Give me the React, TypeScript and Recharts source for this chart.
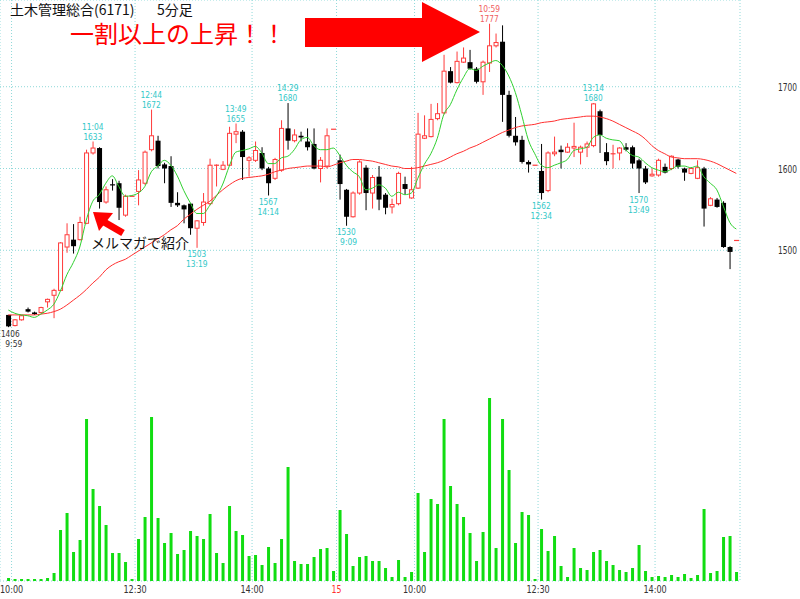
import React from "react";
import {
  ComposedChart,
  Bar,
  Line,
  Scatter,
  XAxis,
  YAxis,
  CartesianGrid,
} from "recharts";

// 5-minute candles, two sessions (9:55 on day 1 .. 15:00 on day 2)
const OPEN = [
  1421, 1408, 1415, 1428, 1424, 1424, 1437, 1445, 1451, 1504,
  1513, 1513, 1533, 1619, 1625, 1559, 1580, 1582, 1543, 1566,
  1572, 1582, 1623, 1634, 1605, 1603, 1558, 1555, 1557, 1527,
  1534, 1557, 1603, 1599, 1604, 1642, 1645, 1610, 1610, 1619,
  1600, 1588, 1598, 1649, 1634, 1640, 1633, 1630, 1600, 1603,
  1648, 1610, 1574, 1541, 1570, 1601, 1570, 1590, 1568, 1553,
  1557, 1581, 1564, 1576, 1637, 1639, 1661, 1668, 1719, 1705,
  1730, 1730, 1722, 1706, 1729, 1750, 1755, 1690, 1640, 1635,
  1608, 1604, 1597, 1573, 1618, 1623, 1620, 1625, 1620, 1626,
  1628, 1670, 1620, 1617, 1619, 1626, 1626, 1610, 1600, 1591,
  1592, 1602, 1600, 1611, 1600, 1594, 1588, 1600, 1555, 1562,
  1558, 1504, 1512,
];
const HIGH = [
  1421, 1416, 1421, 1430, 1425, 1431, 1441, 1453, 1510, 1533,
  1532, 1541, 1623, 1633, 1626, 1578, 1587, 1585, 1568, 1566,
  1598, 1622, 1672, 1640, 1607, 1615, 1571, 1556, 1558, 1537,
  1570, 1612, 1605, 1609, 1651, 1655, 1647, 1615, 1633, 1626,
  1602, 1613, 1659, 1680, 1648, 1645, 1649, 1649, 1614, 1649,
  1648, 1617, 1575, 1572, 1610, 1604, 1592, 1603, 1570, 1563,
  1596, 1590, 1602, 1668, 1665, 1679, 1680, 1739, 1724, 1743,
  1748, 1745, 1724, 1732, 1777, 1765, 1775, 1695, 1663, 1640,
  1610, 1604, 1630, 1621, 1639, 1628, 1631, 1656, 1628, 1633,
  1680, 1672, 1631, 1629, 1626, 1631, 1628, 1612, 1603, 1600,
  1612, 1606, 1616, 1612, 1601, 1601, 1610, 1602, 1565, 1564,
  1560, 1505, 1512,
];
const LOW = [
  1406, 1407, 1414, 1424, 1421, 1423, 1430, 1417, 1450, 1497,
  1496, 1512, 1532, 1617, 1551, 1557, 1573, 1537, 1541, 1566,
  1555, 1580, 1621, 1600, 1582, 1553, 1553, 1533, 1519, 1503,
  1530, 1555, 1578, 1598, 1603, 1631, 1586, 1590, 1608, 1598,
  1567, 1586, 1596, 1623, 1632, 1633, 1622, 1599, 1583, 1600,
  1648, 1562, 1530, 1540, 1568, 1549, 1551, 1549, 1544, 1545,
  1555, 1568, 1563, 1575, 1636, 1638, 1659, 1666, 1704, 1704,
  1729, 1721, 1704, 1690, 1718, 1748, 1657, 1638, 1628, 1606,
  1595, 1604, 1562, 1571, 1615, 1600, 1619, 1614, 1605, 1614,
  1626, 1619, 1604, 1600, 1610, 1621, 1600, 1570, 1581, 1590,
  1590, 1594, 1598, 1600, 1585, 1593, 1587, 1529, 1554, 1552,
  1503, 1477, 1512,
];
const CLOSE = [
  1407, 1415, 1420, 1425, 1422, 1430, 1440, 1451, 1509, 1519,
  1505, 1534, 1619, 1625, 1559, 1574, 1579, 1552, 1566, 1566,
  1586, 1620, 1640, 1603, 1600, 1558, 1555, 1550, 1527, 1536,
  1559, 1604, 1604, 1604, 1643, 1645, 1614, 1613, 1622, 1600,
  1582, 1611, 1649, 1634, 1641, 1638, 1626, 1600, 1610, 1640,
  1648, 1581, 1541, 1570, 1608, 1570, 1589, 1562, 1552, 1556,
  1594, 1575, 1574, 1642, 1640, 1660, 1667, 1719, 1705, 1731,
  1735, 1722, 1706, 1730, 1750, 1754, 1690, 1640, 1632, 1608,
  1605, 1604, 1570, 1619, 1620, 1620, 1626, 1627, 1626, 1630,
  1679, 1641, 1609, 1618, 1625, 1623, 1606, 1600, 1583, 1593,
  1610, 1595, 1615, 1602, 1595, 1600, 1601, 1551, 1563, 1553,
  1504, 1498, 1512,
];
// short (green) and long (red) moving averages as drawn
const MA_SHORT = [
  1427, 1423, 1421, 1420, 1418, 1422, 1427, 1434, 1450, 1470,
  1485, 1504, 1537, 1560, 1568, 1582, 1591, 1578, 1566, 1567,
  1570, 1578, 1596, 1603, 1610, 1604, 1591, 1573, 1558, 1545,
  1545, 1555, 1566, 1581, 1603, 1620, 1622, 1624, 1627, 1619,
  1606, 1606, 1613, 1615, 1623, 1635, 1638, 1628, 1623, 1623,
  1625, 1616, 1604, 1596, 1590, 1574, 1576, 1580, 1576, 1566,
  1571, 1568, 1570, 1588, 1605, 1618, 1637, 1666, 1678, 1696,
  1711, 1722, 1720, 1725, 1729, 1732, 1726, 1713, 1693, 1665,
  1635, 1618, 1604, 1601, 1604, 1607, 1611, 1622, 1624, 1626,
  1638, 1641, 1637, 1635, 1634, 1623, 1616, 1614, 1607, 1601,
  1598, 1596, 1599, 1603, 1603, 1601, 1603, 1590, 1582, 1574,
  1554, 1534, 1526,
];
const MA_LONG = [
  1421, 1421, 1421, 1421, 1421, 1422, 1423, 1425, 1428, 1433,
  1439, 1445, 1452, 1460, 1467, 1476, 1482, 1486, 1489, 1494,
  1499, 1504, 1509, 1514, 1519, 1525, 1530, 1538, 1544, 1550,
  1555, 1560, 1567, 1574, 1580, 1585, 1588, 1589, 1590, 1591,
  1593, 1596, 1598, 1600, 1601, 1602, 1603, 1603, 1603, 1602,
  1604, 1607, 1609, 1611, 1611, 1610, 1609, 1607, 1605, 1603,
  1602, 1600, 1600, 1601, 1603, 1605, 1607, 1610, 1614, 1618,
  1621, 1625, 1628, 1632, 1636, 1640, 1644, 1647, 1650, 1652,
  1653, 1654, 1656, 1657, 1658, 1660, 1661, 1662, 1663, 1664,
  1664, 1663, 1661, 1658, 1654, 1650, 1646, 1642, 1636, 1628,
  1622, 1618, 1614, 1613, 1612, 1612, 1612, 1611, 1609, 1606,
  1602, 1598, 1594,
];
const VOLUME = [
  300, 200, 200, 200, 200, 200, 300, 800, 5100, 6800,
  2900, 4100, 16200, 9200, 7500, 5600, 2800, 2800, 1900, 200,
  4200, 6400, 16400, 6300, 3800, 4800, 2700, 3100, 5000, 4500,
  4200, 6700, 2800, 1800, 7500, 5000, 4600, 2500, 2600, 1600,
  3400, 1800, 4200, 11400, 2000, 1700, 1700, 2400, 3200, 3300,
  1000, 7100, 4700, 1500, 2400, 2500, 2000, 2000, 1300, 400,
  2100, 400, 900, 8800, 2900, 8200, 7700, 16200, 9500, 7700,
  6400, 4800, 2000, 4900, 18300, 3300, 16200, 11100, 3800, 6900,
  6600, 200, 5200, 3000, 4500, 1500, 400, 3300, 1300, 1100,
  2900, 3100, 2000, 1600, 1100, 900, 1300, 3600, 1000, 400,
  500, 400, 600, 400, 700, 300, 600, 7200, 800, 1000,
  4400, 4500, 900,
];

// session boundaries (between candles) and their labels
const TIME_TICKS = [0.5, 19.5, 37.5, 50.5, 62.5, 81.5, 99.5];
const TIME_LABELS = ["10:00", "12:30", "14:00", "15", "10:00", "12:30", "14:00"];
const PRICE_TICKS = [1500, 1600, 1700];

const HIGH_MARKS = [
  { i: 13, price: 1633, time: "11:04" },
  { i: 22, price: 1672, time: "12:44" },
  { i: 35, price: 1655, time: "13:49" },
  { i: 43, price: 1680, time: "14:29" },
  { i: 74, price: 1777, time: "10:59" },
  { i: 90, price: 1680, time: "13:14" },
];
const LOW_MARKS = [
  { i: 0, price: 1406, time: "9:59" },
  { i: 29, price: 1503, time: "13:19" },
  { i: 40, price: 1567, time: "14:14" },
  { i: 52, price: 1530, time: "9:09" },
  { i: 82, price: 1562, time: "12:34" },
  { i: 97, price: 1570, time: "13:49" },
];

const X_DOMAIN = [-1.277, 112.569];
const PRICE_DOMAIN = [1095.7, 1806];
const VOL_DOMAIN = [0, 58100];

const RED = "#ff3b3b";
const GREEN_MA = "#2fd02f";
const RED_MA = "#ff3030";
const VOL_GREEN = "#11dd11";
const CYAN = "#33c8c8";
const FONT = "'DejaVu Sans', sans-serif";
const CJK = "'Noto Sans CJK JP', 'Noto Sans', sans-serif";

const MAX_HIGH = Math.max(...HIGH);
const MIN_LOW = Math.min(...LOW);

const data = OPEN.map((o, i) => ({
  i,
  open: o,
  high: HIGH[i],
  low: LOW[i],
  close: CLOSE[i],
  range: [LOW[i], HIGH[i]],
  maShort: MA_SHORT[i],
  maLong: MA_LONG[i],
  vol: VOLUME[i],
}));

// width of a label in the chart's narrow bitmap-like font
function textWidth(s: string, digit: number, colon: number) {
  let w = 0;
  for (const ch of s) w += ch === ":" ? colon : digit;
  return w;
}

function Candle(props: any) {
  const { x, y, width, height, payload } = props;
  if (x == null || y == null || !payload) return null;
  const top = Math.min(y, y + height);
  const h = Math.abs(height);
  const { open, close, high, low } = payload;
  const span = high - low;
  const py = (v: number) => (span === 0 ? top : top + ((high - v) / span) * h);
  const up = close >= open;
  const col = up ? RED : "#000";
  const cx = x + width / 2;
  const bTop = py(Math.max(open, close));
  const bBot = py(Math.min(open, close));
  return (
    <g>
      {h > 0 && (
        <line x1={cx} x2={cx} y1={top} y2={top + h} stroke={col} strokeWidth={1} />
      )}
      {bBot - bTop < 1.2 ? (
        <line x1={x} x2={x + width} y1={bTop} y2={bTop} stroke={col} strokeWidth={1.2} />
      ) : up ? (
        <rect
          x={x + 0.5}
          y={bTop}
          width={width - 1}
          height={bBot - bTop}
          fill="#fff"
          stroke={col}
          strokeWidth={1}
        />
      ) : (
        <rect x={x} y={bTop} width={width} height={bBot - bTop} fill="#000" />
      )}
    </g>
  );
}

function markColor(price: number) {
  if (price === MAX_HIGH) return "#f06060";
  if (price === MIN_LOW) return "#333";
  return CYAN;
}

function MarkText({ x, y, s, fill }: { x: number; y: number; s: string; fill: string }) {
  return (
    <text
      x={x}
      y={y}
      textAnchor="middle"
      fontFamily={FONT}
      fontSize={9.5}
      fill={fill}
      textLength={textWidth(s, 4.7, 2.9)}
      lengthAdjust="spacingAndGlyphs"
    >
      {s}
    </text>
  );
}

function HighMark(props: any) {
  const { cx, cy, payload } = props;
  if (cx == null || !payload) return null;
  const col = markColor(payload.price);
  return (
    <g>
      <MarkText x={cx + (5 - payload.time.length) * 2.3} y={cy - 12} s={payload.time} fill={col} />
      <MarkText x={cx} y={cy - 2} s={String(payload.price)} fill={col} />
    </g>
  );
}

function LowMark(props: any) {
  const { cx, cy, payload } = props;
  if (cx == null || !payload) return null;
  const col = markColor(payload.price);
  const px = Math.max(cx, 10.3);
  const tx = Math.max(cx, 11.5) + (5 - payload.time.length) * 2.3;
  return (
    <g>
      <MarkText x={px} y={cy + 9.5} s={String(payload.price)} fill={col} />
      <MarkText x={tx} y={cy + 19.5} s={payload.time} fill={col} />
    </g>
  );
}

function TimeTick(props: any) {
  const { x, y, index } = props;
  const label = TIME_LABELS[index];
  return (
    <text
      x={x}
      y={y + 12}
      textAnchor="middle"
      fontFamily={FONT}
      fontSize={11}
      fill={label === "15" ? "#ff3030" : "#333"}
      textLength={textWidth(label, 5, 3.3)}
      lengthAdjust="spacingAndGlyphs"
    >
      {label}
    </text>
  );
}

function PriceTick(props: any) {
  const { x, y, payload } = props;
  const s = String(payload.value);
  return (
    <text
      x={x + 57}
      y={y + 4}
      textAnchor="end"
      fontFamily={FONT}
      fontSize={11}
      fill="#333"
      textLength={textWidth(s, 4.75, 3)}
      lengthAdjust="spacingAndGlyphs"
    >
      {s}
    </text>
  );
}

export default function App() {
  return (
    <div style={{ position: "absolute", left: 0, top: 0, width: 800, height: 599, background: "#fff" }}>
      <ComposedChart
        width={800}
        height={599}
        data={data}
        margin={{ top: 0, right: 0, left: 0, bottom: 0 }}
      >
        <XAxis
          xAxisId="a"
          type="number"
          dataKey="i"
          domain={X_DOMAIN}
          allowDataOverflow
          ticks={TIME_TICKS}
          interval={0}
          tick={<TimeTick />}
          tickLine={false}
          axisLine={false}
          tickSize={0}
          tickMargin={0}
          height={18}
        />
        <XAxis
          xAxisId="b"
          type="number"
          dataKey="i"
          domain={X_DOMAIN}
          allowDataOverflow
          hide
        />
        <YAxis
          yAxisId="p"
          orientation="right"
          type="number"
          domain={PRICE_DOMAIN}
          allowDataOverflow
          ticks={PRICE_TICKS}
          interval={0}
          tick={<PriceTick />}
          tickLine={false}
          axisLine={false}
          tickSize={0}
          tickMargin={0}
          width={60}
        />
        <YAxis yAxisId="v" type="number" domain={VOL_DOMAIN} allowDataOverflow hide />
        <CartesianGrid
          xAxisId="a"
          yAxisId="p"
          stroke="#8fd9d9"
          strokeDasharray="1 2"
        />
        <Bar
          xAxisId="b"
          yAxisId="v"
          dataKey="vol"
          fill={VOL_GREEN}
          barSize={3}
          isAnimationActive={false}
        />
        <Bar
          xAxisId="a"
          yAxisId="p"
          dataKey="range"
          barSize={5}
          shape={<Candle />}
          isAnimationActive={false}
        />
        <Line
          xAxisId="a"
          yAxisId="p"
          type="monotone"
          dataKey="maLong"
          stroke={RED_MA}
          strokeWidth={1}
          dot={false}
          activeDot={false}
          isAnimationActive={false}
        />
        <Line
          xAxisId="a"
          yAxisId="p"
          type="monotone"
          dataKey="maShort"
          stroke={GREEN_MA}
          strokeWidth={1}
          dot={false}
          activeDot={false}
          isAnimationActive={false}
        />
        <Scatter
          xAxisId="a"
          yAxisId="p"
          data={HIGH_MARKS}
          dataKey="price"
          shape={<HighMark />}
          isAnimationActive={false}
        />
        <Scatter
          xAxisId="a"
          yAxisId="p"
          data={LOW_MARKS}
          dataKey="price"
          shape={<LowMark />}
          isAnimationActive={false}
        />
      </ComposedChart>
      <svg
        width={800}
        height={599}
        style={{ position: "absolute", left: 0, top: 0, pointerEvents: "none" }}
      >
        <text x={10} y={15} fontFamily={CJK} fontSize={14} fill="#111">
          土木管理総合(6171)
        </text>
        <text x={157} y={15} fontFamily={CJK} fontSize={14} fill="#111">
          5分足
        </text>
        <text x={70} y={43} fontFamily={CJK} fontSize={24} fill="#ff0000">
          一割以上の上昇！！
        </text>
        <polygon
          points="305,18 422,18 422,2 480,32 422,62 422,47 305,47"
          fill="#ff0000"
        />
        <line x1={104} y1={222} x2={123} y2={233} stroke="#ff0000" strokeWidth={7} />
        <polygon points="93,212 113,213 99,231" fill="#ff0000" />
        <text x={91} y={248} fontFamily={CJK} fontSize={14} fill="#111">
          メルマガで紹介
        </text>
      </svg>
    </div>
  );
}
